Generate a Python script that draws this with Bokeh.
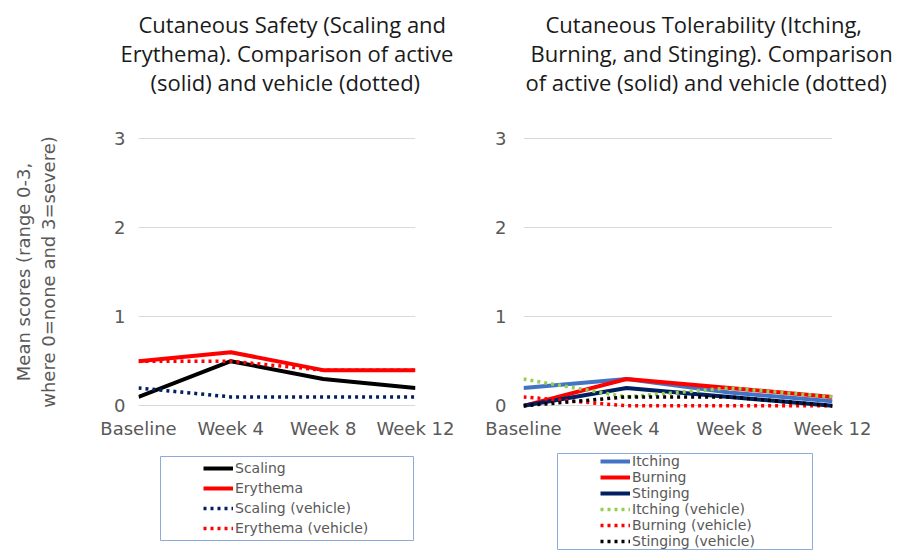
from bokeh.plotting import figure
from bokeh.models import Range1d, FixedTicker, Legend, LegendItem, Title, Spacer
from bokeh.layouts import row, column
from bokeh.embed import file_html
from bokeh.resources import INLINE

# ---------------- data ----------------
timepoints = ["Baseline", "Week 4", "Week 8", "Week 12"]
y_ticks = [0, 1, 2, 3]

# left panel: cutaneous safety
scaling = [0.1, 0.5, 0.3, 0.2]
erythema = [0.5, 0.6, 0.4, 0.4]
scaling_vehicle = [0.2, 0.1, 0.1, 0.1]
erythema_vehicle = [0.5, 0.5, 0.4, 0.4]

# right panel: cutaneous tolerability
itching = [0.2, 0.3, 0.15, 0.05]
burning = [0.0, 0.3, 0.2, 0.1]
stinging = [0.0, 0.2, 0.1, 0.0]
itching_vehicle = [0.3, 0.1, 0.2, 0.1]
burning_vehicle = [0.1, 0.0, 0.0, 0.0]
stinging_vehicle = [0.0, 0.1, 0.1, 0.0]

left_title = ["Cutaneous Safety (Scaling and",
              "Erythema). Comparison of active",
              "(solid) and vehicle (dotted)"]
right_title = ["Cutaneous Tolerability (Itching,",
               "Burning, and Stinging). Comparison",
               "of active (solid) and vehicle (dotted)"]
y_label = "Mean scores (range 0-3,\nwhere 0=none and 3=severe)"

left_series = [
    ("Scaling", scaling, "#000000", "solid"),
    ("Erythema", erythema, "#ff0000", "solid"),
    ("Scaling (vehicle)", scaling_vehicle, "#002060", "dotted"),
    ("Erythema (vehicle)", erythema_vehicle, "#ff0000", "dotted"),
]
right_series = [
    ("Itching", itching, "#4472c4", "solid"),
    ("Burning", burning, "#ff0000", "solid"),
    ("Stinging", stinging, "#002060", "solid"),
    ("Itching (vehicle)", itching_vehicle, "#92d050", "dotted"),
    ("Burning (vehicle)", burning_vehicle, "#ff0000", "dotted"),
    ("Stinging (vehicle)", stinging_vehicle, "#000000", "dotted"),
]

TICK_FONT = "DejaVu Sans"
TITLE_FONT = "Open Sans"
GRAY = "#595959"


def add_series(p, series, visible=True):
    x = list(range(len(timepoints)))
    items = []
    for name, vals, color, style in series:
        if style == "solid":
            r = p.line(x, vals, line_color=color, line_width=4, line_join="round",
                       visible=visible)
        else:
            r = p.line(x, vals, line_color=color, line_width=3.5, line_dash="3 4",
                       visible=visible)
        items.append(LegendItem(label=name, renderers=[r]))
    return items


def make_panel(series, title_lines, title_offsets, width, height, bl, br, ylabel):
    x = list(range(len(timepoints)))
    p = figure(width=width, height=height, x_range=Range1d(0, len(timepoints) - 1),
               y_range=Range1d(-0.03, 3.03), output_backend="svg",
               toolbar_location=None, min_border_left=bl, min_border_right=br,
               min_border_top=135, min_border_bottom=height - 408)
    p.outline_line_color = None
    p.xgrid.grid_line_color = None
    p.ygrid.grid_line_color = "#d9d9d9"
    p.ygrid.grid_line_width = 1
    p.ygrid.ticker = FixedTicker(ticks=y_ticks)

    p.xaxis.ticker = FixedTicker(ticks=x)
    p.xaxis.major_label_overrides = {i: t for i, t in enumerate(timepoints)}
    p.yaxis.ticker = FixedTicker(ticks=y_ticks)
    for ax in (p.xaxis, p.yaxis):
        ax.axis_line_color = None
        ax.major_tick_line_color = None
        ax.minor_tick_line_color = None
        ax.major_label_text_font = TICK_FONT
        ax.major_label_text_font_size = "18px"
        ax.major_label_text_color = GRAY
    p.xaxis.major_label_standoff = 3
    p.yaxis.major_label_standoff = 7 if ylabel else 11
    if ylabel:
        p.yaxis.axis_label = ylabel
        p.yaxis.axis_label_text_font = TICK_FONT
        p.yaxis.axis_label_text_font_size = "18px"
        p.yaxis.axis_label_text_font_style = "normal"
        p.yaxis.axis_label_text_color = GRAY
        p.yaxis.axis_label_standoff = 52

    add_series(p, series)

    # titles: spacer nearest the frame, then lines bottom to top, then top spacer
    p.add_layout(Title(text=" ", standoff=13, text_font_size="22px"), "above")
    for line, off in reversed(list(zip(title_lines, title_offsets))):
        p.add_layout(Title(text=line, align="left", offset=off, standoff=-3,
                           text_font=TITLE_FONT, text_font_size="22px",
                           text_font_style="normal", text_color="#1a1a1a"),
                     "above")
    p.add_layout(Title(text=" ", standoff=3, text_font_size="3px"), "above")
    return p


def make_legend(series, box_w, box_h, row_h, pad, vx):
    lf = figure(width=box_w + 2, height=box_h + 2, output_backend="svg",
                toolbar_location=None, x_axis_type=None, y_axis_type=None,
                x_range=Range1d(0, 1), y_range=Range1d(0, 1),
                min_border_left=1, min_border_right=1, min_border_top=1,
                min_border_bottom=1)
    lf.outline_line_color = "#8eaadb"
    lf.outline_line_width = 1
    lf.grid.visible = False
    items = add_series(lf, series, visible=False)
    legend = Legend(items=items, location=(vx, 0), padding=pad, spacing=0,
                    margin=0, glyph_width=30, glyph_height=row_h,
                    label_height=row_h, label_standoff=2,
                    label_text_font=TICK_FONT, label_text_font_size="14px",
                    label_text_color=GRAY, border_line_alpha=0,
                    background_fill_alpha=0, inactive_fill_alpha=0)
    lf.add_layout(legend, "center")
    return lf


p_left = make_panel(left_series, left_title, [0, -18, 12], 465, 455, 138, 50, y_label)
p_right = make_panel(right_series, right_title, [22, 7, 2], 449, 452, 58, 82, None)

leg_left = make_legend(left_series, 253, 84, 20, 2, 41)
leg_right = make_legend(right_series, 255, 96, 16, 0, 43)

layout = row(
    column(p_left, row(Spacer(width=159, height=10), leg_left)),
    column(p_right, row(Spacer(width=91, height=10), leg_right)),
)
open("out.html", "w").write(file_html(layout, INLINE))
